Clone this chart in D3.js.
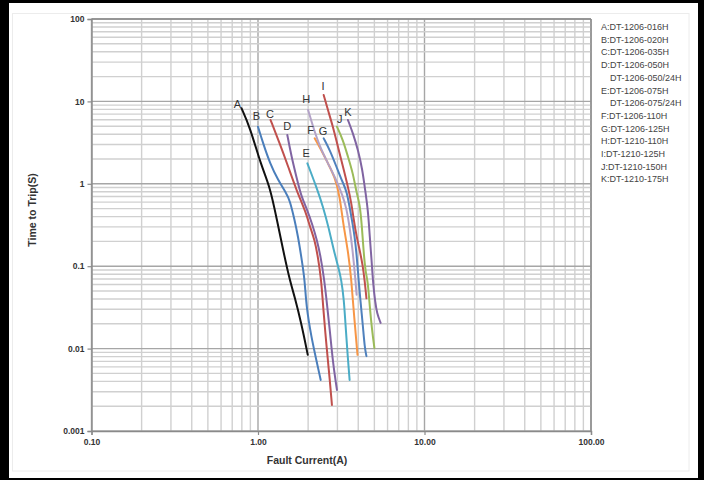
<!DOCTYPE html>
<html>
<head>
<meta charset="utf-8">
<script src="https://cdn.jsdelivr.net/npm/d3@7"></script>
<style>
  html, body { margin: 0; padding: 0; background: #fff; }
  svg { display: block; font-family: "Liberation Sans", Arial, sans-serif; }
</style>
</head>
<body>
<svg id="chart" width="704" height="480"></svg>
<script>
// curve data: [fault current (A), time to trip (s)]
const curveA = [[0.796, 8.25], [0.893, 4.93], [1.05, 1.61], [1.18, 0.922], [1.30, 0.364], [1.415, 0.157], [1.55, 0.068], [1.66, 0.0427], [1.82, 0.0203], [1.99, 0.0084]];
const curveB = [[1.00, 4.93], [1.073, 3.10], [1.18, 1.77], [1.32, 1.11], [1.48, 0.767], [1.55, 0.636], [1.66, 0.364], [1.74, 0.228], [1.82, 0.130], [1.91, 0.068], [1.95, 0.0323], [2.09, 0.0139], [2.24, 0.00728], [2.38, 0.00416]];
const curveC = [[1.19, 5.94], [1.35, 3.10], [1.52, 1.61], [1.70, 0.841], [1.95, 0.438], [2.05, 0.302], [2.19, 0.208], [2.29, 0.130], [2.40, 0.068], [2.46, 0.0323], [2.58, 0.0105], [2.70, 0.00416], [2.78, 0.00207]];
const curveD = [[1.50, 3.91], [1.59, 2.13], [1.70, 1.22], [1.82, 0.697], [1.98, 0.48], [2.12, 0.32], [2.26, 0.208], [2.38, 0.130], [2.50, 0.068], [2.58, 0.0389], [2.70, 0.0168], [2.82, 0.00663], [2.98, 0.00315]];
const curveE = [[1.98, 1.77], [2.24, 0.922], [2.46, 0.527], [2.66, 0.291], [2.85, 0.157], [3.03, 0.0987], [3.17, 0.068], [3.28, 0.0389], [3.34, 0.0222], [3.46, 0.0079], [3.55, 0.00416]];
const curveF = [[2.19, 3.56], [2.40, 2.57], [2.63, 1.77], [2.89, 1.22], [3.10, 0.711], [3.24, 0.332], [3.47, 0.157], [3.64, 0.068], [3.78, 0.0241], [3.96, 0.0084]];
const curveG = [[2.48, 3.56], [2.70, 2.57], [2.96, 1.61], [3.24, 1.01], [3.40, 0.841], [3.64, 0.399], [3.81, 0.228], [3.91, 0.140], [4.02, 0.068], [4.12, 0.0389], [4.27, 0.0185], [4.37, 0.0105], [4.48, 0.0081]];
const curveH = [[2.00, 7.86], [2.14, 4.93], [2.35, 2.82], [2.63, 1.77], [2.96, 1.11], [3.24, 0.697], [3.40, 0.50], [3.55, 0.302], [3.69, 0.165], [3.85, 0.068], [3.91, 0.045]];
const curveI = [[2.48, 11.96], [2.63, 7.86], [2.82, 4.93], [3.02, 2.82], [3.24, 1.61], [3.47, 0.922], [3.64, 0.580], [3.76, 0.364], [3.91, 0.228], [4.08, 0.157], [4.25, 0.104], [4.37, 0.068], [4.48, 0.0408]];
const curveJ = [[2.98, 4.93], [3.24, 3.40], [3.47, 2.13], [3.72, 1.34], [3.91, 0.767], [4.08, 0.580], [4.21, 0.302], [4.30, 0.157], [4.43, 0.082], [4.56, 0.068], [4.69, 0.0323], [4.84, 0.0168], [5.00, 0.0102]];
const curveK = [[3.47, 5.94], [3.72, 4.10], [3.99, 2.57], [4.24, 1.47], [4.37, 0.922], [4.58, 0.481], [4.69, 0.228], [4.81, 0.119], [4.92, 0.059], [5.06, 0.0366], [5.18, 0.027], [5.45, 0.0205]];

const curveNames = ["A", "B", "C", "D", "E", "F", "G", "H", "I", "J", "K"];
const curveData = [curveA, curveB, curveC, curveD, curveE, curveF, curveG, curveH, curveI, curveJ, curveK];
const curveColors = ["#111111", "#4a7ebb", "#c0504d", "#8064a2", "#4bacc6", "#f79646", "#4f81bd", "#b3a2c7", "#c0504d", "#9bbb59", "#8064a2"];
// where each letter sits, in data units
const labelAt = [[0.753, 9.22], [0.98, 6.65], [1.18, 6.97], [1.50, 5.07], [1.95, 2.34], [2.07, 4.50], [2.46, 4.37], [1.95, 10.7], [2.46, 15.5], [3.10, 6.11], [3.47, 7.37]];

const xTicks = [0.1, 1, 10, 100];
const yTicks = [0.001, 0.01, 0.1, 1, 10, 100];

const legendItems = [
  "A:DT-1206-016H", "B:DT-1206-020H", "C:DT-1206-035H", "D:DT-1206-050H",
  "DT-1206-050/24H", "E:DT-1206-075H", "DT-1206-075/24H", "F:DT-1206-110H",
  "G:DT-1206-125H", "H:DT-1210-110H", "I:DT-1210-125H", "J:DT-1210-150H", "K:DT-1210-175H"
];

const W = 704, H = 480;
const plotL = 91.5, plotR = 591, plotT = 19, plotB = 431;

const svg = d3.select("#chart");

// black outer frame
svg.append("rect").attr("width", W).attr("height", H).attr("fill", "#000");
svg.append("rect")
    .attr("x", 9).attr("y", 3)
    .attr("width", 698 - 9).attr("height", 478 - 3)
    .attr("fill", "#fff");
// faint chart-area border
svg.append("rect")
    .attr("x", 12.5).attr("y", 13.5)
    .attr("width", 689 - 12.5).attr("height", 471 - 13.5)
    .attr("fill", "none").attr("stroke", "#ececec");

const x = d3.scaleLog().domain([0.1, 100]).range([plotL, plotR]);
const y = d3.scaleLog().domain([0.001, 100]).range([plotB, plotT]);

const isDecade = v => Math.abs(Math.log10(v) - Math.round(Math.log10(v))) < 1e-9;

// grid
const grid = svg.append("g");
grid.selectAll(".vx")
    .data(x.ticks())
    .join("line")
    .attr("x1", d => x(d)).attr("x2", d => x(d))
    .attr("y1", plotT).attr("y2", plotB)
    .attr("stroke", d => isDecade(d) ? "#a6a6a6" : "#d0d0d0")
    .attr("stroke-width", 1.4);
grid.selectAll(".hy")
    .data(y.ticks())
    .join("line")
    .attr("y1", d => y(d)).attr("y2", d => y(d))
    .attr("x1", plotL).attr("x2", plotR)
    .attr("stroke", d => isDecade(d) ? "#a6a6a6" : "#d0d0d0")
    .attr("stroke-width", 1.4);

// axes
const xAxis = d3.axisBottom(x)
    .tickValues(xTicks)
    .tickFormat(d3.format(".2f"))
    .tickSize(4)
    .tickPadding(4);
const yAxis = d3.axisLeft(y)
    .tickValues(yTicks)
    .tickFormat(d3.format("~g"))
    .tickSize(4)
    .tickPadding(3);

svg.append("g")
    .attr("transform", `translate(0,${plotB})`)
    .call(xAxis)
    .call(g => g.select(".domain").attr("stroke", "#8a8a8a").attr("stroke-width", 1.4))
    .call(g => g.selectAll(".tick line").attr("stroke", "#8a8a8a").attr("stroke-width", 1.2))
    .call(g => g.selectAll(".tick text")
        .attr("fill", "#333").attr("font-size", 8.5).attr("font-weight", "bold")
        .attr("font-family", "Liberation Sans, Arial, sans-serif"));

svg.append("g")
    .attr("transform", `translate(${plotL},0)`)
    .call(yAxis)
    .call(g => g.select(".domain").attr("stroke", "#8a8a8a").attr("stroke-width", 1.4))
    .call(g => g.selectAll(".tick line").attr("stroke", "#8a8a8a").attr("stroke-width", 1.2))
    .call(g => g.selectAll(".tick text")
        .attr("fill", "#333").attr("font-size", 8.5).attr("font-weight", "bold")
        .attr("font-family", "Liberation Sans, Arial, sans-serif"));

// top / right edges of the plot
svg.append("line")
    .attr("x1", plotL).attr("x2", plotR).attr("y1", plotT).attr("y2", plotT)
    .attr("stroke", "#8a8a8a").attr("stroke-width", 1.4);
svg.append("line")
    .attr("x1", plotR).attr("x2", plotR).attr("y1", plotT).attr("y2", plotB)
    .attr("stroke", "#8a8a8a").attr("stroke-width", 1.4);

// axis titles
svg.append("text")
    .attr("x", 307).attr("y", 464)
    .attr("text-anchor", "middle")
    .attr("font-size", 10.5).attr("font-weight", "bold").attr("fill", "#333")
    .text("Fault Current(A)");
svg.append("text")
    .attr("transform", "translate(36,210) rotate(-90)")
    .attr("text-anchor", "middle")
    .attr("font-size", 10.5).attr("font-weight", "bold").attr("fill", "#333")
    .text("Time to Trip(S)");

// curves, smoothed through the read-off points
const line = d3.line()
    .x(d => x(d[0]))
    .y(d => y(d[1]))
    .curve(d3.curveBasis);

svg.append("g")
    .selectAll("path")
    .data(curveData)
    .join("path")
    .attr("d", line)
    .attr("fill", "none")
    .attr("stroke", (d, i) => curveColors[i])
    .attr("stroke-width", 2)
    .attr("stroke-linecap", "round");

// curve letters
svg.append("g")
    .selectAll("text")
    .data(curveNames)
    .join("text")
    .attr("x", (d, i) => x(labelAt[i][0]))
    .attr("y", (d, i) => y(labelAt[i][1]))
    .attr("dy", "0.35em")
    .attr("text-anchor", "middle")
    .attr("font-size", 11)
    .attr("fill", "#333")
    .text(d => d);

// legend
svg.append("g")
    .selectAll("text")
    .data(legendItems)
    .join("text")
    .attr("x", d => d.includes(":") ? 601 : 610)
    .attr("y", (d, i) => 30 + i * 12.7)
    .attr("font-size", 9)
    .attr("fill", "#444")
    .text(d => d);
</script>
</body>
</html>
